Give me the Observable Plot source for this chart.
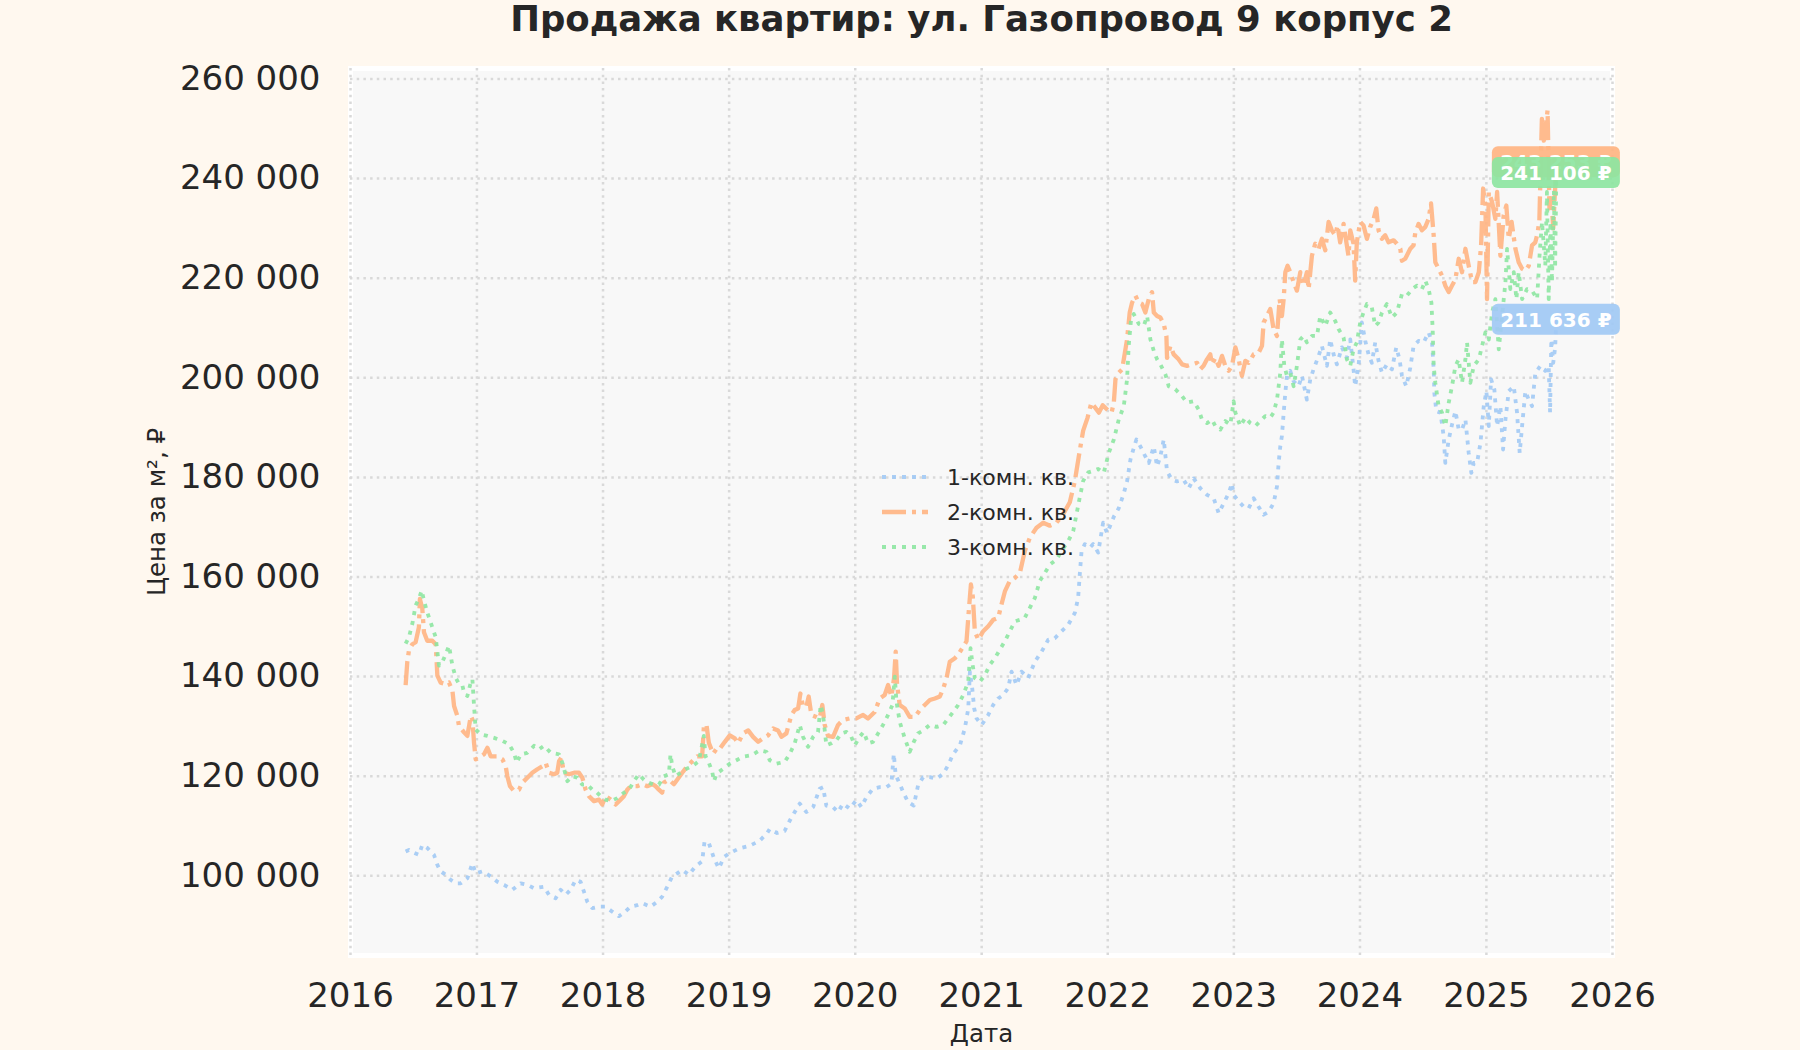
<!DOCTYPE html>
<html>
<head>
<meta charset="utf-8">
<script src="https://cdn.jsdelivr.net/npm/d3@7"></script>
<script src="https://cdn.jsdelivr.net/npm/@observablehq/plot@0.6"></script>
<style>
  html, body { margin: 0; padding: 0; background: #fff8ef; }
  #chart { width: 1800px; height: 1050px; }
</style>
</head>
<body>
<div id="chart"></div>
<script>
const title = "Продажа квартир: ул. Газопровод 9 корпус 2";
const xLabel = "Дата";
const yLabel = "Цена за м², ₽";
const seriesNames = ["1-комн. кв.", "2-комн. кв.", "3-комн. кв."];
const seriesColors = ["#a1c9f4", "#ffb482", "#8de5a1"];
const seriesDash = ["4,6", "24,6,4,6", "4,6"];
const seriesWidth = [3.8, 4.3, 3.8];
const endLabels = ["211 636 ₽", "243 253 ₽", "241 106 ₽"];
const yearTicks = [2016, 2017, 2018, 2019, 2020, 2021, 2022, 2023, 2024, 2025, 2026];
const yTicks = [100000, 120000, 140000, 160000, 180000, 200000, 220000, 240000, 260000];

// [decimal year, price per m2]
const room1 = [[2016.436,104900],[2016.462,105200],[2016.502,104600],[2016.541,104200],[2016.568,106200],[2016.607,105600],[2016.660,104200],[2016.687,102200],[2016.713,100900],[2016.753,100200],[2016.792,99200],[2016.832,98500],[2016.872,98500],[2016.924,99500],[2016.964,102500],[2016.990,100500],[2017.043,100900],[2017.109,99900],[2017.162,98800],[2017.215,98200],[2017.281,97200],[2017.347,98500],[2017.400,98200],[2017.453,97500],[2017.532,97800],[2017.571,96200],[2017.624,95500],[2017.664,97200],[2017.704,96200],[2017.743,97200],[2017.783,99200],[2017.822,98800],[2017.849,96800],[2017.875,94800],[2017.915,93500],[2017.968,93800],[2018.020,93800],[2018.073,92800],[2018.126,91900],[2018.166,92600],[2018.218,93800],[2018.271,94100],[2018.311,94500],[2018.377,93800],[2018.430,94800],[2018.469,95800],[2018.509,97800],[2018.549,99900],[2018.588,100500],[2018.628,101200],[2018.681,100200],[2018.733,101900],[2018.786,102900],[2018.805,106900],[2018.839,106600],[2018.879,103600],[2018.918,101500],[2018.960,103800],[2019.000,104500],[2019.080,105500],[2019.160,106000],[2019.240,107000],[2019.300,108500],[2019.322,109400],[2019.380,108600],[2019.440,109000],[2019.481,111100],[2019.520,112800],[2019.560,114500],[2019.613,112800],[2019.666,113800],[2019.718,117500],[2019.745,117800],[2019.771,114100],[2019.824,113800],[2019.864,112800],[2019.903,114500],[2019.956,113500],[2020.009,115200],[2020.049,113800],[2020.088,115800],[2020.141,117500],[2020.194,117800],[2020.247,117800],[2020.286,118500],[2020.305,124500],[2020.320,120200],[2020.352,118500],[2020.379,116800],[2020.418,114800],[2020.463,114100],[2020.497,118200],[2020.537,119800],[2020.590,119800],[2020.643,119500],[2020.696,120500],[2020.735,122200],[2020.775,124500],[2020.828,126200],[2020.867,129600],[2020.894,133600],[2020.907,141000],[2020.925,137700],[2020.941,133600],[2020.960,131600],[2021.000,130300],[2021.052,132300],[2021.091,134300],[2021.131,135600],[2021.171,136300],[2021.210,137700],[2021.237,141000],[2021.276,138300],[2021.316,141000],[2021.369,139700],[2021.422,143000],[2021.475,145000],[2021.528,147400],[2021.580,147700],[2021.633,149100],[2021.686,150400],[2021.739,152800],[2021.765,155800],[2021.778,160500],[2021.792,165200],[2021.818,166600],[2021.858,165900],[2021.884,166600],[2021.924,164900],[2021.963,170900],[2021.995,168800],[2022.048,172100],[2022.087,173800],[2022.127,176800],[2022.153,179200],[2022.180,183600],[2022.206,185900],[2022.227,187600],[2022.259,186200],[2022.298,184200],[2022.325,182900],[2022.365,186200],[2022.391,182200],[2022.417,184200],[2022.444,187600],[2022.470,181200],[2022.510,179500],[2022.549,179200],[2022.602,179500],[2022.642,177800],[2022.681,179800],[2022.734,177800],[2022.787,176500],[2022.840,175800],[2022.880,172800],[2022.919,174800],[2022.959,176800],[2022.985,178800],[2022.998,176500],[2023.038,175200],[2023.078,174100],[2023.117,173800],[2023.157,175800],[2023.196,174100],[2023.236,172500],[2023.276,173100],[2023.315,174800],[2023.342,178200],[2023.355,182900],[2023.368,186200],[2023.381,188300],[2023.395,193000],[2023.408,197000],[2023.421,200400],[2023.447,201400],[2023.474,199300],[2023.513,198300],[2023.540,200400],[2023.579,195600],[2023.606,199700],[2023.632,201700],[2023.672,204400],[2023.698,206400],[2023.738,202400],[2023.764,207700],[2023.791,204700],[2023.817,202700],[2023.857,206100],[2023.896,204000],[2023.923,207700],[2023.949,201700],[2023.962,198300],[2023.989,202400],[2024.015,211100],[2024.042,207400],[2024.068,204700],[2024.094,203000],[2024.121,207100],[2024.147,203400],[2024.174,201000],[2024.213,202700],[2024.253,201700],[2024.287,206100],[2024.313,203700],[2024.332,200400],[2024.366,198300],[2024.398,202000],[2024.424,206400],[2024.464,207400],[2024.504,207100],[2024.543,209100],[2024.570,207100],[2024.583,201700],[2024.588,197000],[2024.604,193300],[2024.636,193000],[2024.662,188300],[2024.675,182900],[2024.702,187600],[2024.728,190600],[2024.755,193300],[2024.781,189600],[2024.807,189600],[2024.834,191600],[2024.860,184900],[2024.881,180900],[2024.900,182900],[2024.926,182900],[2024.953,186900],[2024.979,194300],[2025.000,197300],[2025.019,190300],[2025.037,199700],[2025.063,197700],[2025.085,190300],[2025.111,194300],[2025.132,185600],[2025.151,191600],[2025.177,197300],[2025.217,198300],[2025.243,193000],[2025.264,184900],[2025.283,190300],[2025.309,197300],[2025.336,195600],[2025.362,194300],[2025.388,201000],[2025.428,202400],[2025.467,201400],[2025.494,202400],[2025.505,193000],[2025.515,207700],[2025.530,203000],[2025.545,206000],[2025.555,211636]];

const room2 = [[2016.436,138300],[2016.449,142900],[2016.462,145200],[2016.489,146500],[2016.515,146900],[2016.541,149900],[2016.549,155600],[2016.568,153600],[2016.581,148900],[2016.607,147200],[2016.647,147200],[2016.674,146500],[2016.687,140200],[2016.713,138800],[2016.753,138500],[2016.779,138800],[2016.806,137200],[2016.819,134100],[2016.845,132100],[2016.858,130100],[2016.898,128800],[2016.924,128100],[2016.938,130100],[2016.951,132100],[2016.964,131400],[2016.977,126700],[2016.990,123400],[2017.017,123700],[2017.056,124400],[2017.083,125700],[2017.109,124000],[2017.162,124000],[2017.202,123400],[2017.228,122000],[2017.241,120000],[2017.262,118000],[2017.294,117000],[2017.334,117300],[2017.360,118700],[2017.400,119700],[2017.439,120700],[2017.479,121400],[2017.519,122000],[2017.545,122700],[2017.571,120700],[2017.611,120400],[2017.637,120700],[2017.651,123000],[2017.669,123700],[2017.690,120700],[2017.730,120400],[2017.770,120700],[2017.809,120700],[2017.836,119700],[2017.862,117300],[2017.888,116000],[2017.928,115000],[2017.968,115300],[2017.994,114300],[2018.020,116000],[2018.060,115300],[2018.100,114300],[2018.139,115300],[2018.166,116000],[2018.192,117300],[2018.218,118000],[2018.271,118000],[2018.311,118400],[2018.350,118000],[2018.390,118400],[2018.417,118000],[2018.443,117300],[2018.469,116700],[2018.482,118700],[2018.522,119300],[2018.562,118400],[2018.588,119300],[2018.628,120700],[2018.668,122000],[2018.707,123000],[2018.747,124000],[2018.786,124000],[2018.800,130100],[2018.820,130400],[2018.839,126700],[2018.873,124500],[2018.905,125700],[2018.926,125500],[2018.966,126900],[2019.005,128200],[2019.045,127600],[2019.071,126600],[2019.111,128600],[2019.151,129200],[2019.190,127900],[2019.230,126900],[2019.269,127600],[2019.309,128200],[2019.349,129600],[2019.388,129200],[2019.415,127900],[2019.454,128600],[2019.494,132300],[2019.520,133300],[2019.547,133600],[2019.565,136600],[2019.586,134000],[2019.613,134000],[2019.631,136000],[2019.652,132300],[2019.692,131900],[2019.718,131600],[2019.739,134300],[2019.758,130300],[2019.784,128100],[2019.824,127900],[2019.864,130300],[2019.903,131300],[2019.956,131600],[2020.009,131600],[2020.062,132300],[2020.101,131600],[2020.154,132900],[2020.194,135600],[2020.233,136300],[2020.260,138300],[2020.286,136000],[2020.307,139700],[2020.320,145000],[2020.331,138300],[2020.352,134300],[2020.392,133600],[2020.431,131900],[2020.471,131900],[2020.511,133300],[2020.550,134300],[2020.590,135300],[2020.630,135600],[2020.669,136000],[2020.696,137600],[2020.722,139700],[2020.748,143000],[2020.788,143700],[2020.814,144400],[2020.854,146000],[2020.880,147100],[2020.900,153800],[2020.915,158500],[2020.930,156000],[2020.946,149100],[2020.973,147400],[2021.012,149100],[2021.052,150100],[2021.091,151400],[2021.131,151800],[2021.157,154500],[2021.184,157100],[2021.223,159200],[2021.263,159800],[2021.303,160800],[2021.342,165200],[2021.382,167900],[2021.435,169900],[2021.488,170900],[2021.541,170300],[2021.593,170900],[2021.646,172600],[2021.699,175000],[2021.739,179300],[2021.778,185400],[2021.805,189400],[2021.840,192000],[2021.870,195000],[2021.900,194000],[2021.930,193000],[2021.960,194500],[2022.000,193500],[2022.030,193000],[2022.048,195000],[2022.061,199700],[2022.087,201000],[2022.114,201700],[2022.127,203700],[2022.153,207700],[2022.174,213100],[2022.193,215100],[2022.219,216500],[2022.246,215100],[2022.272,214800],[2022.298,213100],[2022.325,215800],[2022.351,217200],[2022.365,213100],[2022.391,212400],[2022.417,212100],[2022.444,210800],[2022.465,208400],[2022.470,204000],[2022.497,206400],[2022.523,204700],[2022.562,203700],[2022.589,202700],[2022.629,202400],[2022.668,202700],[2022.708,203000],[2022.734,201700],[2022.760,202400],[2022.787,203700],[2022.813,204700],[2022.827,202700],[2022.853,204000],[2022.879,202400],[2022.906,204400],[2022.932,202400],[2022.959,201400],[2022.985,202400],[2023.012,206100],[2023.038,203700],[2023.064,200400],[2023.091,203400],[2023.117,203000],[2023.157,204700],[2023.196,205000],[2023.223,206400],[2023.236,211100],[2023.262,212400],[2023.289,213800],[2023.315,209800],[2023.342,208400],[2023.363,215800],[2023.381,212400],[2023.395,215800],[2023.408,221200],[2023.426,222500],[2023.447,221200],[2023.474,219200],[2023.500,217500],[2023.527,221200],[2023.553,218500],[2023.579,221200],[2023.593,217800],[2023.619,224500],[2023.645,226900],[2023.672,225900],[2023.698,227900],[2023.725,225600],[2023.751,231300],[2023.777,229600],[2023.804,228600],[2023.822,230600],[2023.843,227200],[2023.870,230900],[2023.896,226600],[2023.909,224500],[2023.923,229600],[2023.949,226900],[2023.962,219500],[2023.975,227200],[2024.002,231300],[2024.028,230600],[2024.055,227900],[2024.081,230300],[2024.108,231900],[2024.129,234000],[2024.147,229600],[2024.174,227900],[2024.200,228600],[2024.226,227200],[2024.266,227600],[2024.292,226900],[2024.319,225900],[2024.332,223500],[2024.358,223900],[2024.398,225900],[2024.424,226600],[2024.438,229200],[2024.464,230900],[2024.490,229600],[2024.517,230300],[2024.543,231900],[2024.562,235000],[2024.583,228600],[2024.596,223200],[2024.622,221900],[2024.649,220500],[2024.675,218500],[2024.702,217200],[2024.728,218500],[2024.755,219800],[2024.781,223900],[2024.807,221200],[2024.834,225900],[2024.860,222500],[2024.887,219200],[2024.913,219200],[2024.940,221200],[2024.958,226600],[2024.974,238000],[2024.992,234600],[2025.005,215800],[2025.019,237300],[2025.045,235300],[2025.071,231900],[2025.085,237300],[2025.111,224500],[2025.137,232600],[2025.158,234600],[2025.177,227900],[2025.200,231300],[2025.230,225900],[2025.256,223200],[2025.283,221900],[2025.309,221500],[2025.336,222500],[2025.362,226600],[2025.388,227200],[2025.407,229200],[2025.420,231600],[2025.440,252000],[2025.455,247600],[2025.470,250300],[2025.485,253700],[2025.500,234000],[2025.515,236000],[2025.530,230000],[2025.555,243253]];

const room3 = [[2016.436,146600],[2016.462,147900],[2016.489,150600],[2016.515,154300],[2016.541,155600],[2016.563,157300],[2016.581,155300],[2016.607,152900],[2016.647,149900],[2016.674,147900],[2016.700,142200],[2016.726,142900],[2016.753,144500],[2016.779,146200],[2016.806,142200],[2016.832,139800],[2016.858,138500],[2016.885,138200],[2016.898,136800],[2016.924,136100],[2016.951,138800],[2016.964,139500],[2016.977,134100],[2016.990,129400],[2017.030,128400],[2017.083,128100],[2017.136,127700],[2017.202,127100],[2017.255,126400],[2017.294,124700],[2017.315,122700],[2017.347,124400],[2017.400,124700],[2017.453,126100],[2017.492,125400],[2017.532,126100],[2017.585,124700],[2017.651,124400],[2017.677,122700],[2017.717,119000],[2017.756,120000],[2017.796,119700],[2017.836,118300],[2017.875,118300],[2017.915,117300],[2017.941,117000],[2017.981,116000],[2018.020,115300],[2018.060,115000],[2018.113,115600],[2018.166,116700],[2018.206,117300],[2018.245,119000],[2018.284,120400],[2018.324,119300],[2018.364,118700],[2018.403,118300],[2018.443,118300],[2018.482,120000],[2018.522,120400],[2018.535,124400],[2018.549,122000],[2018.575,120000],[2018.615,120700],[2018.654,121400],[2018.707,122000],[2018.760,123000],[2018.799,128100],[2018.813,124000],[2018.839,122700],[2018.865,121000],[2018.880,119000],[2018.900,120500],[2018.953,121500],[2019.005,122500],[2019.058,123200],[2019.111,123900],[2019.177,124200],[2019.243,125200],[2019.296,124900],[2019.322,123200],[2019.375,122500],[2019.441,122900],[2019.481,124500],[2019.520,126600],[2019.560,130300],[2019.586,127900],[2019.626,125900],[2019.666,127900],[2019.705,128900],[2019.726,134300],[2019.745,132300],[2019.771,126200],[2019.811,126600],[2019.850,127200],[2019.890,128600],[2019.930,128900],[2019.969,127900],[2019.996,126200],[2020.035,127900],[2020.067,128900],[2020.101,126600],[2020.141,126900],[2020.181,128600],[2020.220,130300],[2020.260,132300],[2020.294,134300],[2020.313,140000],[2020.326,135000],[2020.352,130900],[2020.392,127600],[2020.431,124900],[2020.463,126900],[2020.497,128600],[2020.537,129200],[2020.590,130300],[2020.643,129900],[2020.696,130300],[2020.735,131600],[2020.775,132900],[2020.814,134300],[2020.854,136300],[2020.894,139000],[2020.912,145700],[2020.928,142400],[2020.946,139700],[2020.986,139000],[2021.026,140300],[2021.065,142400],[2021.105,143700],[2021.144,145400],[2021.184,147100],[2021.223,149100],[2021.263,151100],[2021.303,151400],[2021.342,151800],[2021.382,153800],[2021.422,155800],[2021.461,159200],[2021.501,160800],[2021.541,162500],[2021.593,163500],[2021.633,165200],[2021.686,167200],[2021.726,169200],[2021.752,172600],[2021.778,176000],[2021.805,179300],[2021.845,181000],[2021.884,181300],[2021.924,181700],[2021.968,180900],[2022.008,184900],[2022.048,187600],[2022.087,191600],[2022.127,194300],[2022.153,199700],[2022.166,206400],[2022.185,211800],[2022.206,212800],[2022.246,210800],[2022.285,210400],[2022.312,212400],[2022.338,207700],[2022.365,205400],[2022.391,203700],[2022.417,202700],[2022.457,200700],[2022.483,198300],[2022.536,197700],[2022.589,196300],[2022.629,195000],[2022.681,195300],[2022.721,193600],[2022.747,191600],[2022.787,190900],[2022.827,191600],[2022.853,190300],[2022.893,189600],[2022.932,191300],[2022.972,190600],[2022.998,195300],[2023.012,193000],[2023.051,190300],[2023.091,192000],[2023.130,190900],[2023.170,190300],[2023.210,191300],[2023.249,192300],[2023.289,192000],[2023.315,193000],[2023.342,195600],[2023.368,201000],[2023.381,207700],[2023.400,202400],[2023.421,200400],[2023.447,201000],[2023.474,198300],[2023.500,202400],[2023.527,207700],[2023.553,208400],[2023.579,207100],[2023.619,208400],[2023.659,208400],[2023.685,212400],[2023.725,210400],[2023.764,213100],[2023.804,211400],[2023.830,209800],[2023.870,208100],[2023.896,203700],[2023.923,202400],[2023.949,205700],[2023.975,207100],[2024.002,211100],[2024.028,213100],[2024.055,214800],[2024.094,214100],[2024.121,210400],[2024.147,211100],[2024.174,213100],[2024.213,214800],[2024.253,212100],[2024.292,213100],[2024.332,216800],[2024.372,216500],[2024.411,217800],[2024.451,218500],[2024.490,217800],[2024.517,219500],[2024.543,217800],[2024.565,215100],[2024.575,209800],[2024.583,202400],[2024.596,199000],[2024.622,194300],[2024.649,193000],[2024.675,190300],[2024.702,195000],[2024.728,198300],[2024.755,202400],[2024.781,203700],[2024.807,199000],[2024.834,203700],[2024.847,207100],[2024.873,199000],[2024.900,202400],[2024.940,203700],[2024.966,206400],[2024.992,209100],[2025.019,207700],[2025.045,213100],[2025.071,215800],[2025.098,205700],[2025.124,212400],[2025.151,219200],[2025.164,225900],[2025.190,217800],[2025.217,221200],[2025.238,215800],[2025.256,221200],[2025.283,215800],[2025.322,217800],[2025.362,217500],[2025.402,215800],[2025.423,225200],[2025.441,231300],[2025.467,222500],[2025.480,237300],[2025.494,215800],[2025.508,231300],[2025.520,219200],[2025.535,237600],[2025.545,222000],[2025.555,241106]];

function toDate(y) {
  const yr = Math.floor(y);
  const s = Date.UTC(yr, 0, 1), e = Date.UTC(yr + 1, 0, 1);
  return new Date(s + (y - yr) * (e - s));
}

const seriesData = [room1, room2, room3].map((arr, i) =>
  arr.map(([t, v]) => ({date: toDate(t), value: v, series: seriesNames[i]})));

const fmt = d => d3.format(",")(d).replace(/,/g, " ");
const textColor = "#262626";
const gridStyle = {stroke: "#d9d9d9", strokeOpacity: 1, strokeWidth: 2.5, strokeDasharray: "2.5,4.2"};

const lineMarks = seriesData.map((data, i) => Plot.line(data, {
  x: "date", y: "value",
  stroke: seriesColors[i], strokeWidth: seriesWidth[i], strokeOpacity: 0.9,
  strokeDasharray: seriesDash[i], strokeLinecap: "butt", strokeLinejoin: "round"
}));

const chart = Plot.plot({
  width: 1800, height: 1050,
  marginLeft: 350, marginRight: 188, marginTop: 68, marginBottom: 95,
  style: {background: "transparent", fontFamily: "DejaVu Sans", color: textColor, overflow: "visible"},
  x: {type: "utc", domain: [toDate(2016), toDate(2026)]},
  y: {domain: [84000, 262100]},
  marks: [
    Plot.frame({fill: "#f8f8f8", stroke: "#ffffff", strokeWidth: 5}),
    Plot.ruleX(yearTicks.map(toDate), gridStyle),
    Plot.ruleY(yTicks, gridStyle),
    Plot.axisX(yearTicks.map(toDate), {tickSize: 0, tickPadding: 27, fontSize: 34, fill: textColor, tickFormat: d3.utcFormat("%Y"), label: null}),
    Plot.axisY(yTicks, {tickSize: 0, tickPadding: 30, fontSize: 34, fill: textColor, tickFormat: fmt, label: null}),
    ...lineMarks,
    Plot.text([title], {frameAnchor: "top", dy: -63, fontSize: 35.5, fontWeight: "bold", fill: textColor}),
    Plot.text([xLabel], {frameAnchor: "bottom", dy: 86, fontSize: 24.5, fill: textColor}),
    Plot.text([yLabel], {frameAnchor: "left", textAnchor: "middle", dx: -193, rotate: -90, fontSize: 24.5, fill: textColor})
  ]
});

document.getElementById("chart").appendChild(chart);

// Legend and end-value labels drawn with the chart's own scales
const svg = d3.select(chart);
const xs = chart.scale("x"), ys = chart.scale("y");

const leg = svg.append("g").attr("font-family", "DejaVu Sans").attr("text-anchor", "start");
seriesNames.forEach((name, i) => {
  const cy = 477 + i * 35;
  leg.append("line").attr("x1", 882).attr("x2", 928).attr("y1", cy).attr("y2", cy)
    .attr("stroke", seriesColors[i]).attr("stroke-width", seriesWidth[i]).attr("stroke-opacity", 0.9)
    .attr("stroke-dasharray", seriesDash[i]).attr("stroke-linecap", "butt");
  leg.append("text").attr("x", 947).attr("y", cy).attr("dy", "0.35em").attr("text-anchor", "start")
    .attr("font-size", 22).attr("fill", textColor).text(name);
});

const lab = svg.append("g").attr("font-family", "DejaVu Sans");
[0, 1, 2].forEach(i => {
  const d = seriesData[i][seriesData[i].length - 1];
  const cx = xs.apply(d.date), cy = ys.apply(d.value);
  const w = 128, h = 31;
  lab.append("rect").attr("x", cx - w / 2).attr("y", cy - h / 2).attr("width", w).attr("height", h)
    .attr("rx", 6).attr("fill", seriesColors[i]).attr("fill-opacity", 0.92);
  lab.append("text").attr("x", cx).attr("y", cy).attr("dy", "0.36em").attr("text-anchor", "middle")
    .attr("font-size", 20).attr("font-weight", "bold").attr("fill", "#ffffff").text(endLabels[i]);
});
</script>
</body>
</html>
